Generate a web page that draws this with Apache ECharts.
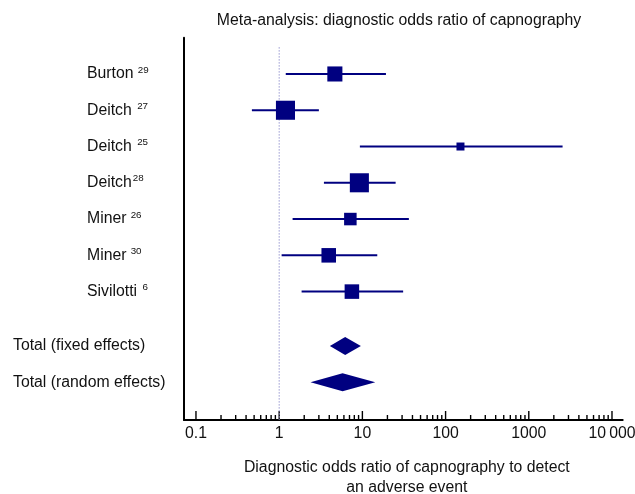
<!DOCTYPE html>
<html><head><meta charset="utf-8">
<script src="https://cdn.jsdelivr.net/npm/echarts@6/dist/echarts.min.js"></script>
<style>html,body{margin:0;padding:0;background:#fff}#c{width:635px;height:494px}</style>
</head><body><div id="c"></div>
<script>
// ---- data ----
const studyNames = ['Burton', 'Deitch', 'Deitch', 'Deitch', 'Miner', 'Miner', 'Sivilotti'];
const studyRefs = ['29', '27', '25', '28', '26', '30', '6'];
const refSeparators = ['\u2009', ' ', ' ', '', '\u2009', '\u2009', ' '];
const estimates = [4.67, 1.19, 151, 9.2, 7.17, 3.94, 7.48];
const lowerCI = [1.20, 0.47, 9.33, 3.45, 1.45, 1.07, 1.86];
const upperCI = [19.2, 3.0, 2548, 25.1, 36.2, 15.1, 30.9];
const weights = [14.2, 22.7, 4.0, 22.7, 9.8, 13.2, 13.2];
const pooledNames = ['Total (fixed effects)', 'Total (random effects)'];
const pooledEst = [6.21, 5.78];
const pooledLower = [4.07, 2.38];
const pooledUpper = [9.59, 14.3];
const majorTicks = [0.1, 1, 10, 100, 1000, 10000];
const tickLabels = ['0.1', '1', '10', '100', '1000', '10\u2009000'];
const nullValue = 1;

// ---- layout / style ----
const X_MIN = 0.0718, X_MAX = 13450;
const Y_MAX = 10.54;
const NAVY = '#000080';
const TEXT = '#111';
const FONT = '"Liberation Sans", Arial, Helvetica, sans-serif';
const FS = 15.8;

const studyRows = studyNames.map((_, i) => i + 1);
const pooledRows = pooledNames.map((_, j) => studyNames.length + 1.5 + j);

const minorTicks = [];
for (let d = 0; d < majorTicks.length - 1; d++) {
  for (let k = 2; k <= 9; k++) minorTicks.push(+(majorTicks[d] * k).toPrecision(6));
}
const tickData = majorTicks.map(v => [v, 1]).concat(minorTicks.map(v => [v, 0]));

const labelByRow = {};
studyRows.forEach((r, i) => {
  labelByRow[r] = '{a|' + studyNames[i] + refSeparators[i] + '}{s|' + studyRefs[i] + '}';
});
pooledRows.forEach((r, j) => { labelByRow[r] = '{t|' + pooledNames[j] + '}'; });

const chart = echarts.init(document.getElementById('c'));
chart.setOption({
  animation: false,
  backgroundColor: '#fff',
  title: {
    text: 'Meta-analysis: diagnostic odds ratio of capnography',
    left: 399, top: 13, padding: 0, textAlign: 'center',
    textStyle: { fontFamily: FONT, fontSize: FS, fontWeight: 'normal', color: TEXT }
  },
  grid: { left: 184, right: 12.3, top: 37.7, bottom: 74, outerBoundsMode: 'none' },
  xAxis: {
    type: 'log', logBase: 10, min: X_MIN, max: X_MAX,
    axisLine: { onZero: false, lineStyle: { color: '#000', width: 2 } },
    axisTick: { show: false },
    splitLine: { show: false },
    axisLabel: {
      margin: 6, color: TEXT, fontFamily: FONT, fontSize: FS,
      showMinLabel: false, showMaxLabel: false,
      formatter: v => {
        const i = majorTicks.findIndex(m => Math.abs(Math.log10(v) - Math.log10(m)) < 1e-6);
        return i >= 0 ? tickLabels[i] : '';
      }
    },
    name: 'Diagnostic odds ratio of capnography to detect\nan adverse event',
    nameLocation: 'middle', nameGap: 38,
    nameTextStyle: { fontFamily: FONT, fontSize: FS, color: TEXT, lineHeight: 19.5, padding: [0, 0, 0, 7] }
  },
  yAxis: {
    type: 'value', inverse: true, min: 0, max: Y_MAX,
    axisLine: { show: true, onZero: false, lineStyle: { color: '#000', width: 2 } },
    axisTick: { show: false },
    splitLine: { show: false },
    axisLabel: {
      customValues: studyRows.concat(pooledRows),
      margin: 171, align: 'left', color: TEXT,
      formatter: v => labelByRow[v] || '',
      rich: {
        a: { fontFamily: FONT, fontSize: FS, color: TEXT, padding: [0, 1, 0, 74], lineHeight: 18 },
        t: { fontFamily: FONT, fontSize: FS, color: TEXT, lineHeight: 18 },
        s: { fontFamily: FONT, fontSize: 9.8, color: TEXT, verticalAlign: 'top', lineHeight: 10 }
      }
    }
  },
  series: [
    {
      type: 'custom', name: 'ticks', silent: true, clip: false,
      encode: { x: 0 },
      data: tickData,
      renderItem: (params, api) => {
        const p = api.coord([api.value(0), Y_MAX]);
        const len = api.value(1) ? 9 : 5;
        return { type: 'line', shape: { x1: p[0], y1: p[1] - 1, x2: p[0], y2: p[1] - len }, style: { stroke: '#000', lineWidth: 1.4 } };
      }
    },
    {
      type: 'custom', name: 'null line', silent: true,
      encode: { x: 0 },
      data: [[nullValue]],
      renderItem: (params, api) => {
        const a = api.coord([api.value(0), 0.26]);
        const b = api.coord([api.value(0), Y_MAX]);
        return { type: 'line', shape: { x1: a[0], y1: a[1], x2: b[0], y2: b[1] }, style: { stroke: '#9a9ad2', lineWidth: 1, lineDash: [1.5, 1.5] } };
      }
    },
    {
      type: 'custom', name: 'studies', silent: true,
      encode: { x: [0, 1, 2], y: 3 },
      data: studyNames.map((_, i) => [lowerCI[i], estimates[i], upperCI[i], studyRows[i], weights[i]]),
      renderItem: (params, api) => {
        const row = api.value(3);
        const lo = api.coord([api.value(0), row]);
        const est = api.coord([api.value(1), row]);
        const hi = api.coord([api.value(2), row]);
        const s = Math.sqrt(api.value(4)) * 4;
        return {
          type: 'group', children: [
            { type: 'line', shape: { x1: lo[0], y1: lo[1], x2: hi[0], y2: hi[1] }, style: { stroke: NAVY, lineWidth: 2 } },
            { type: 'rect', shape: { x: est[0] - s / 2, y: est[1] - s / 2, width: s, height: s }, style: { fill: NAVY } }
          ]
        };
      }
    },
    {
      type: 'custom', name: 'pooled', silent: true,
      encode: { x: [0, 1, 2], y: 3 },
      data: pooledNames.map((_, j) => [pooledLower[j], pooledEst[j], pooledUpper[j], pooledRows[j]]),
      renderItem: (params, api) => {
        const row = api.value(3);
        const lo = api.coord([api.value(0), row]);
        const est = api.coord([api.value(1), row]);
        const hi = api.coord([api.value(2), row]);
        const h = 9;
        return {
          type: 'polygon',
          shape: { points: [[lo[0], lo[1]], [est[0], est[1] - h], [hi[0], hi[1]], [est[0], est[1] + h]] },
          style: { fill: NAVY }
        };
      }
    }
  ]
});
</script>
</body></html>
